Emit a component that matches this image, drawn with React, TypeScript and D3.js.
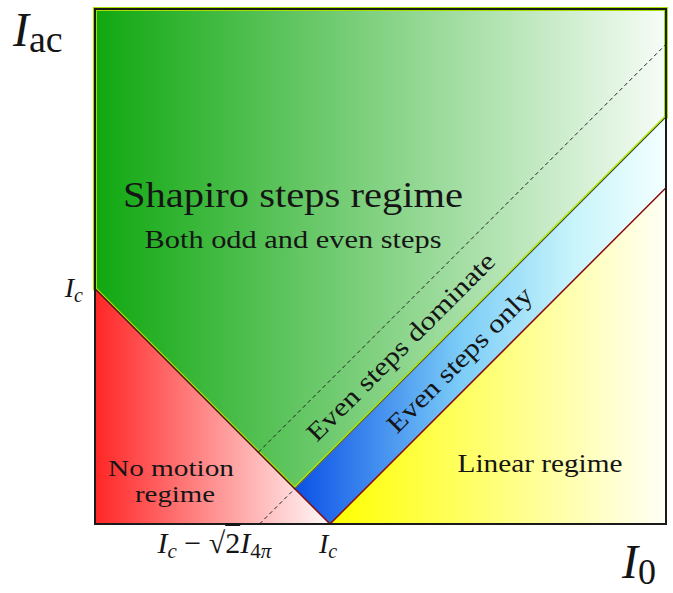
import * as d3 from "d3";

// critical currents in units of Ic
const I_C = 1;
const I_SHIFT = 0.7; // Ic - sqrt(2) I_4pi
const I_DASH = 0.39; // upper dashed guide
const X_MAX = 2.43;
const Y_MAX = 2.19;

const shapiroTitle = "Shapiro steps regime";
const shapiroSub = "Both odd and even steps";
const noMotion = ["No motion", "regime"];
const dominateLabel = "Even steps dominate";
const onlyLabel = "Even steps only";
const linearLabel = "Linear regime";

const W = 673;
const H = 593;
const FONT = "'Liberation Serif', 'Times New Roman', Times, serif";

type Pt = [number, number];

export default function App() {
  const x = d3.scaleLinear().domain([0, X_MAX]).range([95, 666]);
  const y = d3.scaleLinear().domain([0, Y_MAX]).range([524, 9]);
  const line = d3
    .line<Pt>()
    .x((d) => x(d[0]))
    .y((d) => y(d[1]));
  const poly = (pts: Pt[]) => line(pts) + "Z";

  const vx = (I_C + I_SHIFT) / 2;
  const vy = (I_C - I_SHIFT) / 2;

  const red: Pt[] = [[0, 0], [0, I_C], [I_C, 0]];
  const green: Pt[] = [[0, I_C], [0, Y_MAX], [X_MAX, Y_MAX], [X_MAX, X_MAX - I_SHIFT], [vx, vy]];
  const blue: Pt[] = [[vx, vy], [X_MAX, X_MAX - I_SHIFT], [X_MAX, X_MAX - I_C], [I_C, 0]];
  const yellow: Pt[] = [[I_C, 0], [X_MAX, 0], [X_MAX, X_MAX - I_C]];

  const dashLow: Pt[] = [[I_SHIFT, 0], [vx, vy]];
  const dStart = (I_C + I_DASH) / 2;
  const dashHigh: Pt[] = [[dStart, I_C - dStart], [X_MAX, X_MAX - I_DASH]];

  // label centres (middle of each band)
  const domC: Pt = [1.3, 1.3 - (I_DASH + I_SHIFT) / 2];
  const onlyC: Pt = [1.55, 1.55 - (I_SHIFT + I_C) / 2];
  const angle = (Math.atan2(y(1) - y(0), x(1) - x(0)) * 180) / Math.PI;

  return (
    <svg
      width={W}
      height={H}
      style={{ position: "absolute", left: 0, top: 0, background: "#fff", fontFamily: FONT }}
    >
      <defs>
        <linearGradient id="gRed" x1="0" x2="1" y1="0" y2="0">
          <stop offset="0" stopColor="#ff2626" />
          <stop offset="1" stopColor="#fffafa" />
        </linearGradient>
        <linearGradient id="gGreen" x1="0" x2="1" y1="0" y2="0">
          <stop offset="0" stopColor="#10a810" />
          <stop offset="1" stopColor="#f7fcf7" />
        </linearGradient>
        <linearGradient id="gBlue" x1="0" x2="1" y1="0" y2="0">
          <stop offset="0" stopColor="#0a50e6" />
          <stop offset="0.45" stopColor="#7ccdf7" />
          <stop offset="0.75" stopColor="#c8f4fb" />
          <stop offset="1" stopColor="#f3ffff" />
        </linearGradient>
        <linearGradient id="gYellow" x1="0" x2="1" y1="0" y2="0">
          <stop offset="0" stopColor="#ffff00" />
          <stop offset="1" stopColor="#fffff6" />
        </linearGradient>
      </defs>

      <path d={poly(green)} fill="url(#gGreen)" stroke="#a8e000" strokeWidth={4} />
      <path d={poly(blue)} fill="url(#gBlue)" stroke="#e8f8ff" strokeWidth={1} />
      <path d={poly(red)} fill="url(#gRed)" stroke="#8b0a0a" strokeWidth={1.5} />
      <path d={poly(yellow)} fill="url(#gYellow)" stroke="#8b0a0a" strokeWidth={1.5} />
      <path d={line([[vx, vy], [X_MAX, X_MAX - I_SHIFT]]) ?? ""} stroke="#111" strokeWidth={1} fill="none" />
      <path d={line([[0, I_C], [vx, vy]]) ?? ""} stroke="#222" strokeWidth={1} fill="none" />

      <path d={line(dashLow) ?? ""} stroke="#222" strokeWidth={1} strokeDasharray="4,3" fill="none" />
      <path d={line(dashHigh) ?? ""} stroke="#222" strokeWidth={1} strokeDasharray="4,3" fill="none" />

      <rect x={x(0)} y={y(Y_MAX)} width={x(X_MAX) - x(0)} height={y(0) - y(Y_MAX)} fill="none" stroke="#1a1a1a" strokeWidth={2} />

      {/* region labels */}
      <text x={293} y={207} textAnchor="middle" fontSize={36} textLength={340} lengthAdjust="spacingAndGlyphs" fill="#151515">
        {shapiroTitle}
      </text>
      <text x={293} y={248} textAnchor="middle" fontSize={26} textLength={297} lengthAdjust="spacingAndGlyphs" fill="#151515">
        {shapiroSub}
      </text>
      <text x={171} y={476} textAnchor="middle" fontSize={23} textLength={126} lengthAdjust="spacingAndGlyphs" fill="#151515">
        {noMotion[0]}
      </text>
      <text x={175} y={502} textAnchor="middle" fontSize={23} textLength={80} lengthAdjust="spacingAndGlyphs" fill="#151515">
        {noMotion[1]}
      </text>
      <text x={540} y={472} textAnchor="middle" fontSize={26} textLength={165} lengthAdjust="spacingAndGlyphs" fill="#151515">
        {linearLabel}
      </text>
      <text
        transform={`translate(${x(domC[0])},${y(domC[1])}) rotate(${angle})`}
        textAnchor="middle"
        dy="0.35em"
        fontSize={26}
        textLength={255}
        lengthAdjust="spacingAndGlyphs"
        fill="#151515"
      >
        {dominateLabel}
      </text>
      <text
        transform={`translate(${x(onlyC[0])},${y(onlyC[1])}) rotate(${angle})`}
        textAnchor="middle"
        dy="0.35em"
        fontSize={26}
        textLength={194}
        lengthAdjust="spacingAndGlyphs"
        fill="#151515"
      >
        {onlyLabel}
      </text>

      {/* tick labels */}
      <text x={x(0) - 12} y={y(I_C) + 8} textAnchor="end" fontSize={28} fill="#151515">
        <tspan fontStyle="italic">I</tspan>
        <tspan fontStyle="italic" fontSize={20} dy={5}>c</tspan>
      </text>
      <text x={x(I_C) - 11} y={553} fontSize={28} fill="#151515">
        <tspan fontStyle="italic">I</tspan>
        <tspan fontStyle="italic" fontSize={20} dy={5}>c</tspan>
      </text>
      <text x={x(I_SHIFT) - 102} y={553} fontSize={30} fill="#151515">
        <tspan fontStyle="italic">I</tspan>
        <tspan fontStyle="italic" fontSize={21} dy={5}>c</tspan>
        <tspan dy={-5}>{" \u2212 "}</tspan>
        <tspan>{"\u221A"}</tspan>
        <tspan style={{ textDecoration: "overline" }}>2</tspan>
        <tspan fontStyle="italic">I</tspan>
        <tspan fontSize={21} dy={5}>4</tspan>
        <tspan fontSize={21} fontStyle="italic">{"\u03C0"}</tspan>
      </text>

      {/* axis labels */}
      <text x={13} y={46} fontSize={48} fill="#151515">
        <tspan fontStyle="italic">I</tspan>
        <tspan fontSize={38} dy={6}>ac</tspan>
      </text>
      <text x={622} y={578} fontSize={48} fill="#151515">
        <tspan fontStyle="italic">I</tspan>
        <tspan fontSize={36} dy={6}>0</tspan>
      </text>
    </svg>
  );
}
